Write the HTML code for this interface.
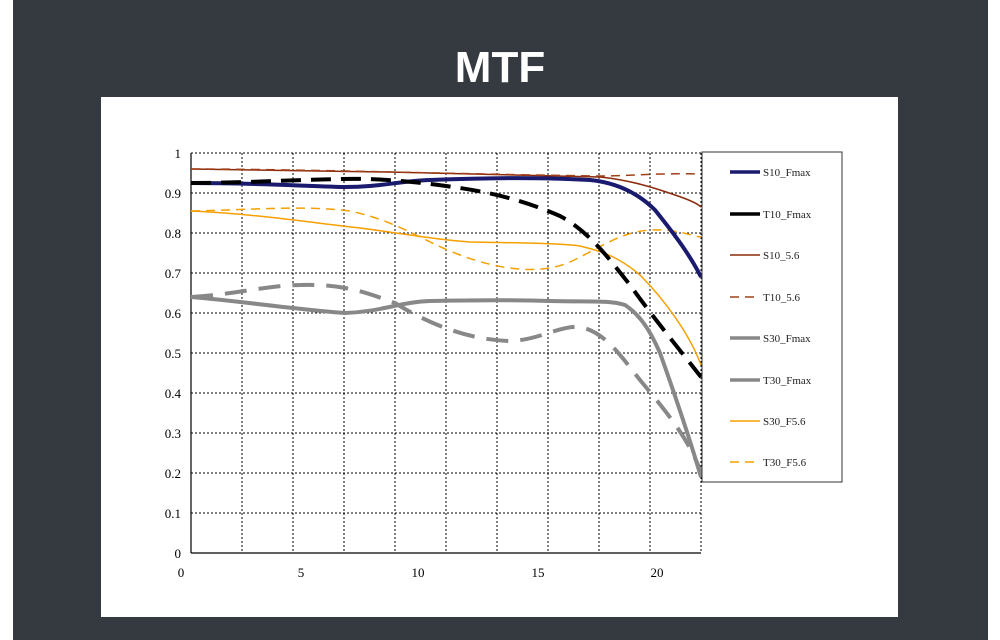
<!DOCTYPE html>
<html><head><style>
html,body{margin:0;padding:0;background:#fff;}
body{width:1000px;height:640px;position:relative;overflow:hidden;}
</style></head><body>
<svg width="1000" height="640" xmlns="http://www.w3.org/2000/svg" style="position:absolute;left:0;top:0">
<rect x="13" y="0" width="975" height="640" fill="#343a40"/>
<text x="500" y="82" text-anchor="middle" font-family="Liberation Sans, sans-serif" font-size="44" font-weight="bold" fill="#fff">MTF</text>
<rect x="101" y="97" width="797" height="520" fill="#fff"/>
<g stroke="#000" stroke-width="1" stroke-dasharray="2,2">
<line x1="191" y1="153" x2="701" y2="153"/><line x1="191" y1="193" x2="701" y2="193"/><line x1="191" y1="233" x2="701" y2="233"/><line x1="191" y1="273" x2="701" y2="273"/><line x1="191" y1="313" x2="701" y2="313"/><line x1="191" y1="353" x2="701" y2="353"/><line x1="191" y1="393" x2="701" y2="393"/><line x1="191" y1="433" x2="701" y2="433"/><line x1="191" y1="473" x2="701" y2="473"/><line x1="191" y1="513" x2="701" y2="513"/>
<line x1="242" y1="153" x2="242" y2="553"/><line x1="293" y1="153" x2="293" y2="553"/><line x1="344" y1="153" x2="344" y2="553"/><line x1="395" y1="153" x2="395" y2="553"/><line x1="446" y1="153" x2="446" y2="553"/><line x1="497" y1="153" x2="497" y2="553"/><line x1="548" y1="153" x2="548" y2="553"/><line x1="599" y1="153" x2="599" y2="553"/><line x1="650" y1="153" x2="650" y2="553"/><line x1="701" y1="153" x2="701" y2="553"/>
</g>
<line x1="191" y1="153" x2="191" y2="553" stroke="#000" stroke-width="1.2"/>
<line x1="191" y1="553" x2="701" y2="553" stroke="#000" stroke-width="1.2"/>
<g font-family="Liberation Serif, serif" font-size="13" fill="#000" text-anchor="end">
<text x="181" y="158">1</text><text x="181" y="198">0.9</text><text x="181" y="238">0.8</text><text x="181" y="278">0.7</text><text x="181" y="318">0.6</text><text x="181" y="358">0.5</text><text x="181" y="398">0.4</text><text x="181" y="438">0.3</text><text x="181" y="478">0.2</text><text x="181" y="518">0.1</text><text x="181" y="558">0</text>
</g>
<g font-family="Liberation Serif, serif" font-size="13" fill="#000" text-anchor="middle">
<text x="181" y="577">0</text><text x="301" y="577">5</text><text x="418" y="577">10</text><text x="538" y="577">15</text><text x="657" y="577">20</text>
</g>
<g fill="none" stroke-linecap="butt">
<path d="M191,169 C300,170 500,174 600,177 C630,180 655,188 675,195 C690,200 698,204 701,207" stroke="#8b2a0a" stroke-width="1.5"/>
<path d="M191,169 C300,169 450,174 600,176 C630,176 650,173 701,174" stroke="#a0401a" stroke-width="1.5" stroke-dasharray="9,6"/>
<path d="M191,211 C260,214 320,224 360,228 C420,236 440,240 470,242 C520,243 560,243 580,246 C605,252 620,258 640,275 C665,300 690,335 701,365" stroke="#f5a000" stroke-width="1.5"/>
<path d="M191,211 C250,210 300,205 350,211 C400,222 420,240 460,255 C500,270 540,275 570,262 C600,248 620,232 650,230 C680,229 690,236 701,237" stroke="#f5a000" stroke-width="1.5" stroke-dasharray="9,6"/>
<path d="M191,297 C240,301 300,310 345,313 C380,312 400,302 430,301 C480,300 520,300 550,301 C590,302 610,300 625,305 C640,315 650,330 660,353 C675,395 690,440 701,477" stroke="#888" stroke-width="4"/>
<path d="M191,297 C230,295 270,285 300,285 C340,284 360,290 395,303 C430,325 470,340 510,341 C540,340 560,325 580,327 C605,332 620,355 640,380 C665,410 690,440 701,473" stroke="#888" stroke-width="4" stroke-dasharray="22,12"/>
<path d="M191,183 C260,183 300,186 345,187 C380,187 400,181 430,180 C480,178 540,177 590,180 C620,183 640,195 655,210 C675,235 690,255 701,277" stroke="#1a1a6e" stroke-width="4"/>
<path d="M191,183 C240,183 290,180 340,179 C380,178 420,182 460,188 C500,194 530,203 560,216 C590,232 610,260 630,285 C655,320 680,350 701,377" stroke="#000" stroke-width="4" stroke-dasharray="20,10"/>
</g>
<rect x="702" y="152" width="140" height="330" fill="#fff" stroke="#333" stroke-width="1"/>
<g fill="none">
<line x1="730" y1="172" x2="760" y2="172" stroke="#1a1a6e" stroke-width="3.5"/>
<line x1="730" y1="214" x2="760" y2="214" stroke="#000" stroke-width="3.5"/>
<line x1="730" y1="255" x2="760" y2="255" stroke="#8b2a0a" stroke-width="1.5"/>
<line x1="730" y1="297" x2="760" y2="297" stroke="#a0401a" stroke-width="1.5" stroke-dasharray="9,6"/>
<line x1="730" y1="338" x2="760" y2="338" stroke="#888" stroke-width="3.5"/>
<line x1="730" y1="380" x2="760" y2="380" stroke="#888" stroke-width="3.5"/>
<line x1="730" y1="421" x2="760" y2="421" stroke="#f5a000" stroke-width="1.5"/>
<line x1="730" y1="462" x2="760" y2="462" stroke="#f5a000" stroke-width="1.5" stroke-dasharray="9,6"/>
</g>
<g font-family="Liberation Serif, serif" font-size="11" fill="#222">
<text x="763" y="176">S10_Fmax</text><text x="763" y="218">T10_Fmax</text><text x="763" y="259">S10_5.6</text><text x="763" y="301">T10_5.6</text><text x="763" y="342">S30_Fmax</text><text x="763" y="384">T30_Fmax</text><text x="763" y="425">S30_F5.6</text><text x="763" y="466">T30_F5.6</text>
</g>
</svg>
</body></html>
